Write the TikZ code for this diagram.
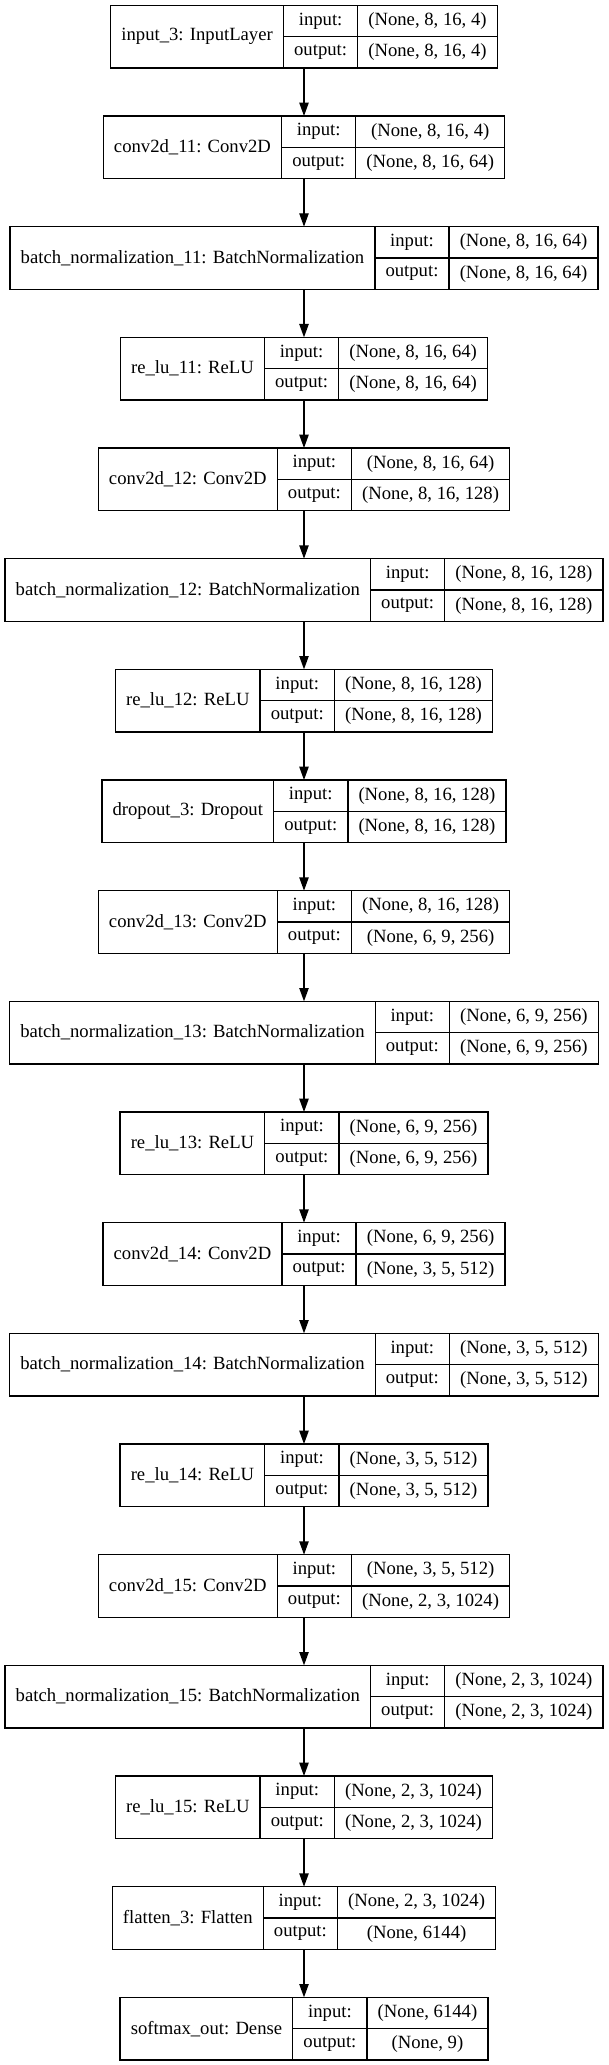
\documentclass[tikz,border=0pt]{standalone}
\usepackage{fontspec}
\setmainfont{Liberation Serif}
\usetikzlibrary{arrows.meta}
\font\recfnt="Liberation Serif" at 14pt
\newlength\lenA \newlength\lenB \newlength\lenC \newlength\lenD
\newcommand\recfont{\recfnt}
\newcommand\measure[2]{\setbox0=\hbox{\recfnt #2}#1=\wd0\relax}
\tikzset{
  recouter/.style={rectangle, inner sep=0pt, outer sep=0pt, minimum height=47pt},
  recbox/.style={draw=black, line width=1pt, rectangle, inner sep=0pt, outer sep=0pt, minimum height=47pt, font=\recfont},
  cell/.style={draw=black, line width=1pt, rectangle, inner sep=0pt, outer sep=0pt, minimum height=23.5pt, font=\recfont},
  arr/.style={draw=black, line width=1pt, -{Triangle[length=10pt,width=7pt]}}
}
% #1 node name, #2 index, #3 label, #4 input shape, #5 output shape
\newcommand\krec[5]{%
  \measure\lenA{#3}\addtolength\lenA{16pt}%
  \measure\lenB{output:}\addtolength\lenB{16pt}%
  \measure\lenC{#4}\measure\lenD{#5}%
  \ifdim\lenD>\lenC \lenC=\lenD\fi
  \addtolength\lenC{16pt}%
  \pgfmathsetlengthmacro\recW{\lenA+\lenB+\lenC}%
  \pgfmathsetlengthmacro\recY{-27.5pt-83pt*#2}%
  \node[recouter, minimum width=\recW] (#1) at (228pt,\recY) {};
  \node[recbox, minimum width=\lenA, anchor=west] (#1-name) at (#1.west) {#3};
  \node[cell, minimum width=\lenB, anchor=north west] (#1-inl) at (#1-name.north east) {input:};
  \node[cell, minimum width=\lenB, anchor=north west] (#1-outl) at (#1-inl.south west) {output:};
  \node[cell, minimum width=\lenC, anchor=north west] (#1-ins) at (#1-inl.north east) {#4};
  \node[cell, minimum width=\lenC, anchor=north west] (#1-outs) at (#1-ins.south west) {#5};
}
\begin{document}
\begin{tikzpicture}
\useasboundingbox (0,0) rectangle (456pt,-1548.75pt);
\krec{n1}{0}{input\_3: InputLayer}{(None, 8, 16, 4)}{(None, 8, 16, 4)}
\krec{n2}{1}{conv2d\_11: Conv2D}{(None, 8, 16, 4)}{(None, 8, 16, 64)}
\krec{n3}{2}{batch\_normalization\_11: BatchNormalization}{(None, 8, 16, 64)}{(None, 8, 16, 64)}
\krec{n4}{3}{re\_lu\_11: ReLU}{(None, 8, 16, 64)}{(None, 8, 16, 64)}
\krec{n5}{4}{conv2d\_12: Conv2D}{(None, 8, 16, 64)}{(None, 8, 16, 128)}
\krec{n6}{5}{batch\_normalization\_12: BatchNormalization}{(None, 8, 16, 128)}{(None, 8, 16, 128)}
\krec{n7}{6}{re\_lu\_12: ReLU}{(None, 8, 16, 128)}{(None, 8, 16, 128)}
\krec{n8}{7}{dropout\_3: Dropout}{(None, 8, 16, 128)}{(None, 8, 16, 128)}
\krec{n9}{8}{conv2d\_13: Conv2D}{(None, 8, 16, 128)}{(None, 6, 9, 256)}
\krec{n10}{9}{batch\_normalization\_13: BatchNormalization}{(None, 6, 9, 256)}{(None, 6, 9, 256)}
\krec{n11}{10}{re\_lu\_13: ReLU}{(None, 6, 9, 256)}{(None, 6, 9, 256)}
\krec{n12}{11}{conv2d\_14: Conv2D}{(None, 6, 9, 256)}{(None, 3, 5, 512)}
\krec{n13}{12}{batch\_normalization\_14: BatchNormalization}{(None, 3, 5, 512)}{(None, 3, 5, 512)}
\krec{n14}{13}{re\_lu\_14: ReLU}{(None, 3, 5, 512)}{(None, 3, 5, 512)}
\krec{n15}{14}{conv2d\_15: Conv2D}{(None, 3, 5, 512)}{(None, 2, 3, 1024)}
\krec{n16}{15}{batch\_normalization\_15: BatchNormalization}{(None, 2, 3, 1024)}{(None, 2, 3, 1024)}
\krec{n17}{16}{re\_lu\_15: ReLU}{(None, 2, 3, 1024)}{(None, 2, 3, 1024)}
\krec{n18}{17}{flatten\_3: Flatten}{(None, 2, 3, 1024)}{(None, 6144)}
\krec{n19}{18}{softmax\_out: Dense}{(None, 6144)}{(None, 9)}
\foreach \a/\b in {1/2,2/3,3/4,4/5,5/6,6/7,7/8,8/9,9/10,10/11,11/12,12/13,13/14,14/15,15/16,16/17,17/18,18/19}
  \draw[arr] (n\a.south) -- (n\b.north);
\end{tikzpicture}
\end{document}
